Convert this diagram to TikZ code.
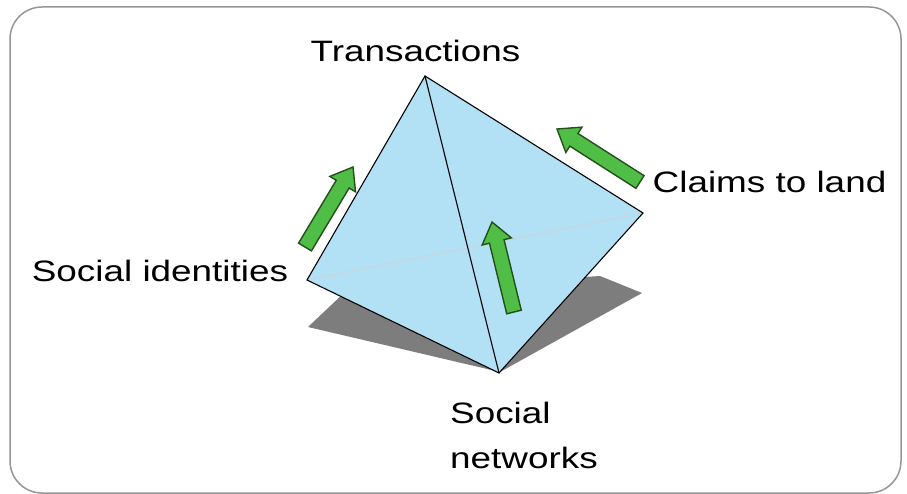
\documentclass[tikz,border=0pt]{standalone}
\usepackage{fontspec}
\setmainfont{Liberation Sans}[FakeStretch=1.25]
\usetikzlibrary{calc}
\definecolor{facecol}{RGB}{178,224,245}
\definecolor{shadowcol}{RGB}{125,125,125}
\definecolor{arrowfill}{RGB}{80,190,70}
\definecolor{arrowline}{RGB}{35,80,25}
\definecolor{framecol}{RGB}{150,150,150}
\tikzset{
	labeltext/.style={font=\fontsize{29.5}{45}\selectfont, inner sep=0pt},
	edge/.style={black, line width=1.1pt, line cap=round},
	greenarrow/.style={fill=arrowfill, draw=arrowline, line width=1.4pt, line join=miter}
}
\newcommand{\blockarrow}[2]{%
	\draw[greenarrow] let \p1=($(#2)-(#1)$), \n1={atan2(\y1,\x1)}, \n2={veclen(\x1,\y1)} in
	[shift={(#1)}, rotate=\n1] (0,-7.5) -- (\n2-20,-7.5) -- (\n2-20,-15) -- (\n2,0)
	-- (\n2-20,15) -- (\n2-20,7.5) -- (0,7.5) -- cycle;}

\begin{document}
\begin{tikzpicture}[x=1pt,y=-1pt]
	\useasboundingbox (0,0) rectangle (907,494);
	\draw [framecol, line width=1.5pt, rounded corners=32pt] (10,7) rectangle (901,493);

	% shadow
	\fill [shadowcol] (308,327) -- (345,292) -- (600,276) -- (642,293) -- (500,372) -- cycle;

	% tetrahedron
	\coordinate (T) at (425,76);
	\coordinate (L) at (307,280);
	\coordinate (R) at (643,213);
	\coordinate (B) at (499,373);
	\fill [facecol] (T) -- (R) -- (B) -- (L) -- cycle;
	\draw [gray!35, line width=0.8pt] (L) -- (R);
	\draw [edge] (T) -- (R) -- (B) -- (L) -- cycle;
	\draw [edge] (T) -- (B);

	% arrows
	\coordinate (a1) at (305,247);
	\coordinate (b1) at (353,167);
	\coordinate (a2) at (640,182);
	\coordinate (b2) at (557,129);
	\coordinate (a3) at (514,312);
	\coordinate (b3) at (492,222);
	\blockarrow{a1}{b1}
	\blockarrow{a2}{b2}
	\blockarrow{a3}{b3}

	\node (tr) [labeltext, anchor=base] at (415.5,62) {Transactions};
	\node (si) [labeltext, anchor=base] at (160,281) {Social identities};
	\node (cl) [labeltext, anchor=base] at (769.5,193) {Claims to land};
	\node (sn) [labeltext, anchor=base west, align=left] at (450,468) {Social\\networks};
\end{tikzpicture}
\end{document}
